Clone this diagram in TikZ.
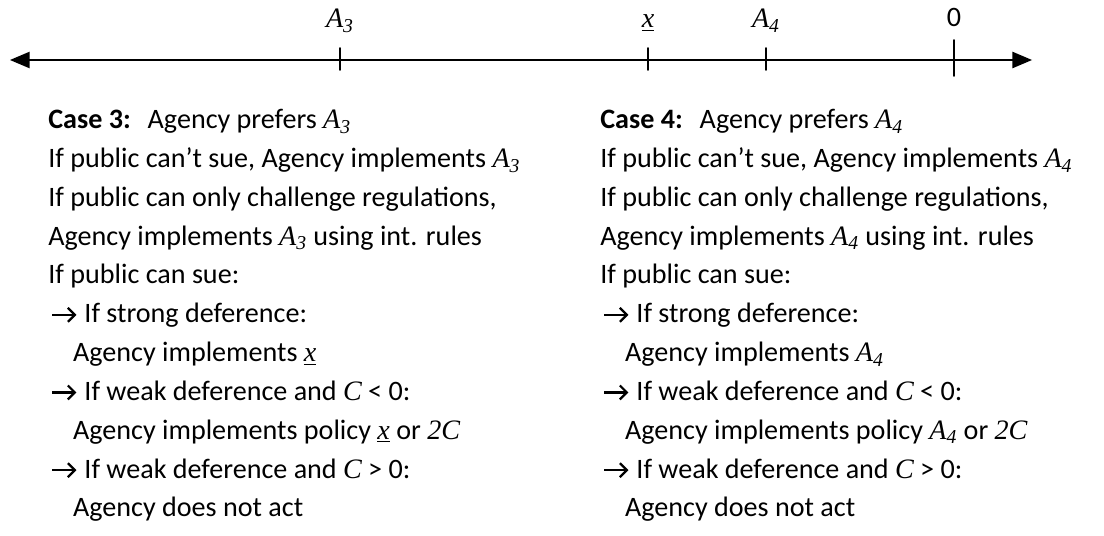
\documentclass[tikz,border=0pt]{standalone}
\usepackage{fontspec}
\setmainfont{Carlito}
\newfontfamily\tnr{Liberation Serif}
\usetikzlibrary{arrows}
\newcommand{\ivar}[1]{{\tnr\itshape #1}}
\newcommand{\uvar}[1]{\underline{\tnr\itshape #1}}
\newcommand{\goes}{\tikz[baseline=-0.16cm,line cap=butt,line join=miter]{\path (0,0);
\draw[line width=1.3pt] (0.08,0) -- (0.52,0);
\draw[line width=1.3pt] (0.39,0.14) -- (0.53,0) -- (0.39,-0.14);}\hspace{0.3em}}
\newcommand{\ind}{\hspace{0.88em}}
\tikzset{casetext/.style={anchor=north west,inner sep=0pt,align=left,font=\fontsize{16}{22.1}\selectfont}}

\begin{document}
\begin{tikzpicture}[line cap=round,line join=round,>=triangle 45,x=1.0cm,y=1.0cm]
\useasboundingbox (0,0) rectangle (22.08,10.7);
\coordinate (axl) at (0.2,9.5);
\coordinate (axr) at (20.64,9.5);
\draw[<->,line width=1.6pt,color=black] (axl) -- (axr);
\foreach \x/\nm/\lab in {6.8/a3/{\ivar{A\textsubscript{3}}},12.96/xu/{\uvar{x}},15.32/a4/{\ivar{A\textsubscript{4}}}}
{\draw[shift={(\x,9.5)},line width=0.9pt,color=black] (0,0.24) -- (0,-0.2);
\node[anchor=base,font=\fontsize{16}{16}\selectfont] (\nm) at (\x,10.14) {\lab};}
\draw[shift={(19.08,9.5)},line width=0.9pt,color=black] (0,0.4) -- (0,-0.32);
\node[anchor=base,font=\fontsize{16}{16}\selectfont] (zero) at (19.08,10.16) {0};
% the two cases
\node[casetext] (case3) at (0.96,8.52) {\textbf{Case 3:}\hspace{0.6em}Agency prefers \ivar{A\textsubscript{3}}\\
If public can't sue, Agency implements \ivar{A\textsubscript{3}}\\
If public can only challenge regulations,\\
Agency implements \ivar{A\textsubscript{3}} using int. rules\\
If public can sue:\\
\goes If strong deference:\\
\ind Agency implements \uvar{x}\\
\goes If weak deference and \ivar{C} < 0:\\
\ind Agency implements policy \uvar{x} or \ivar{2C}\\
\goes If weak deference and \ivar{C} > 0:\\
\ind Agency does not act};
\node[casetext] (case4) at (12.0,8.52) {\textbf{Case 4:}\hspace{0.6em}Agency prefers \ivar{A\textsubscript{4}}\\
If public can't sue, Agency implements \ivar{A\textsubscript{4}}\\
If public can only challenge regulations,\\
Agency implements \ivar{A\textsubscript{4}} using int. rules\\
If public can sue:\\
\goes If strong deference:\\
\ind Agency implements \ivar{A\textsubscript{4}}\\
\goes If weak deference and \ivar{C} < 0:\\
\ind Agency implements policy \ivar{A\textsubscript{4}} or \ivar{2C}\\
\goes If weak deference and \ivar{C} > 0:\\
\ind Agency does not act};

\end{tikzpicture}
\end{document}
